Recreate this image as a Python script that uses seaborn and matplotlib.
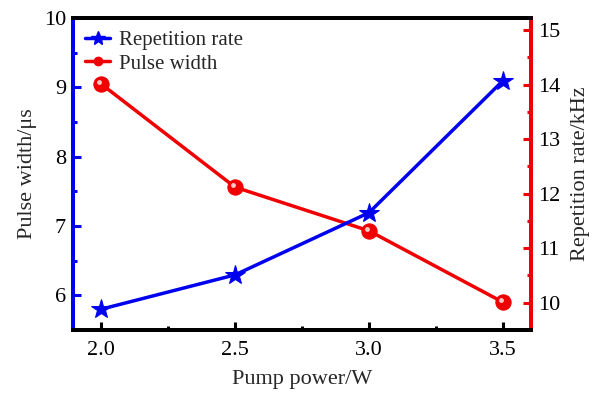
import matplotlib
matplotlib.use("Agg")
import matplotlib.pyplot as plt
from matplotlib.ticker import MultipleLocator
from matplotlib.lines import Line2D
from matplotlib.transforms import offset_copy
import seaborn as sns
import pandas as pd

pump_power = [2.0, 2.5, 3.0, 3.5]
pulse_width = [9.05, 7.56, 6.93, 5.90]        # μs, left axis
repetition_rate = [9.88, 10.51, 11.65, 14.07]  # kHz, right axis

x_ticks = [2.0, 2.5, 3.0, 3.5]
left_ticks = [6, 7, 8, 9, 10]
right_ticks = [10, 11, 12, 13, 14, 15]

sns.set_style("ticks")
plt.rcParams["font.family"] = ["Liberation Serif", "DejaVu Serif"]

df_pw = pd.DataFrame({"x": pump_power, "y": pulse_width})
df_rr = pd.DataFrame({"x": pump_power, "y": repetition_rate})

fig = plt.figure(figsize=(6.07, 3.99), dpi=100)
ax = fig.add_axes([0.120, 0.173, 0.755, 0.782])
ax2 = ax.twinx()

blue = "#0000f0"
red = "#f00000"

sns.lineplot(data=df_pw, x="x", y="y", ax=ax, color=red, lw=2.5,
             marker="o", markersize=11, markeredgecolor=red, markerfacecolor=red)
sns.lineplot(data=df_rr, x="x", y="y", ax=ax2, color=blue, lw=2.5,
             marker="*", markersize=15, markeredgecolor=blue, markerfacecolor=blue)
# highlights on spheres
hl = offset_copy(ax.transData, fig=fig, x=-1.5, y=1.5, units="points")
ax.plot(pump_power, pulse_width, ls="none", marker="o", markersize=3.5,
        markerfacecolor="#ffc8c8", markeredgecolor="none", transform=hl)

ax.set_xlim(1.895, 3.605)
ax.set_ylim(5.5, 10)
ax2.set_ylim(9.5, 15.22)

ax.set_xticks(x_ticks)
ax.set_xticklabels([f"{v:.1f}" for v in x_ticks])
ax.set_yticks(left_ticks)
ax2.set_yticks(right_ticks)
ax.xaxis.set_minor_locator(MultipleLocator(0.25))
ax.yaxis.set_minor_locator(MultipleLocator(0.5))
ax2.yaxis.set_minor_locator(MultipleLocator(0.5))

fs = 16
ax.set_xlabel("Pump power/W", fontsize=fs, labelpad=7)
ax.set_ylabel("Pulse width/μs", fontsize=fs, labelpad=5)
ax2.set_ylabel("Repetition rate/kHz", fontsize=fs, labelpad=8)

for a in (ax, ax2):
    for s in a.spines.values():
        s.set_linewidth(2.8)
        s.set_color("black")
for a in (ax, ax2):
    a.spines["left"].set_color(blue)
    a.spines["right"].set_color(red)

ax.tick_params(axis="x", which="both", direction="in", top=False, colors="black",
               labelsize=fs, width=2.2, pad=8)
ax.tick_params(axis="x", which="major", length=6)
ax.tick_params(axis="x", which="minor", length=3)
ax.tick_params(axis="y", which="both", direction="in", colors=blue, labelcolor="black",
               labelsize=fs, width=2.2, pad=5)
ax.tick_params(axis="y", which="major", length=6)
ax.tick_params(axis="y", which="minor", length=3)
ax2.tick_params(axis="y", which="both", direction="in", colors=red, labelcolor="black",
                labelsize=fs, width=2.2, pad=5)
ax2.tick_params(axis="y", which="major", length=6)
ax2.tick_params(axis="y", which="minor", length=3)

handles = [
    Line2D([], [], color=blue, lw=2.5, marker="*", markersize=10),
    Line2D([], [], color=red, lw=2.5, marker="o", markersize=6),
]
ax.legend(handles, ["Repetition rate", "Pulse width"], loc="upper left",
          frameon=False, fontsize=15, handlelength=1.2, handletextpad=0.4,
          borderaxespad=0.2, labelspacing=0.2, bbox_to_anchor=(0.0, 1.0))

fig.savefig("out.png", dpi=100)
